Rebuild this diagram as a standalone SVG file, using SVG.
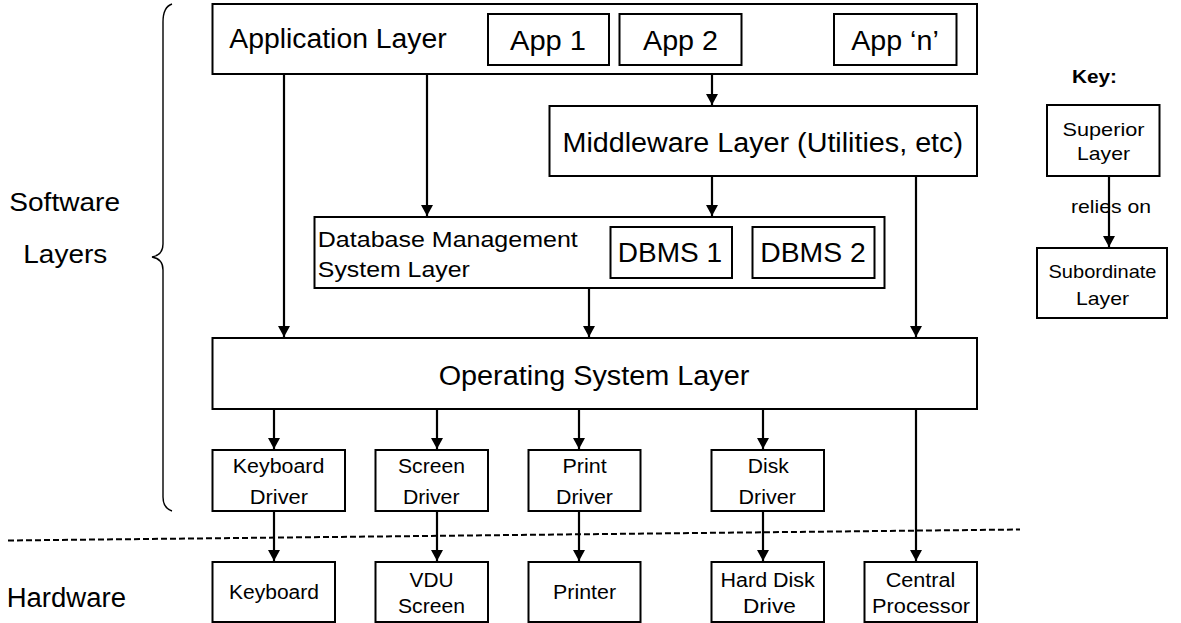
<svg xmlns="http://www.w3.org/2000/svg" width="1181" height="623" viewBox="0 0 1181 623">
<style>
rect{fill:#fff;stroke:#000;stroke-width:2}
text{font-family:"Liberation Sans",Arial,sans-serif;fill:#000}
.c{text-anchor:middle}
.big{font-size:27px}
.mid{font-size:22px}
.sm{font-size:20px}
.key{font-size:19px}
.side{font-size:26px}
.cn line{stroke:#000;stroke-width:2.2}
.cn line.a{marker-end:url(#ah)}
</style>
<defs>
<marker id="ah" markerUnits="userSpaceOnUse" markerWidth="11" markerHeight="12" refX="11" refY="6" orient="auto">
<path d="M0,0 L11,6 L0,12 z" fill="#000"/>
</marker>
</defs>
<rect width="1181" height="623" style="fill:#fff;stroke:none"/>

<g id="side-labels">
<text class="side" x="9.3" y="211" textLength="110.7" lengthAdjust="spacingAndGlyphs">Software</text>
<text class="side" x="23.3" y="263" textLength="84" lengthAdjust="spacingAndGlyphs">Layers</text>
<text class="side" x="6.7" y="607" textLength="119.3" lengthAdjust="spacingAndGlyphs" style="font-size:27px">Hardware</text>
<path d="M172,4 C166,6 163,12 163,22 L163,244 C163,252 158,256 152,257 C158,258 163,262 163,270 L163,497 C163,505 166,509 172,511" fill="none" stroke="#000" stroke-width="1.4"/>
<line x1="8" y1="540.5" x2="1020" y2="529.5" stroke="#000" stroke-width="2" stroke-dasharray="6,3"/>
</g>

<g class="cn" id="connectors">
<line class="a" x1="284" y1="75" x2="284" y2="337"/>
<line class="a" x1="427" y1="75" x2="427" y2="216"/>
<line class="a" x1="712" y1="75" x2="712" y2="105"/>
<line class="a" x1="712" y1="177" x2="712" y2="216"/>
<line class="a" x1="916" y1="177" x2="916" y2="337"/>
<line class="a" x1="589" y1="289" x2="589" y2="337"/>
<line class="a" x1="274" y1="410" x2="274" y2="449"/>
<line class="a" x1="437" y1="410" x2="437" y2="449"/>
<line class="a" x1="579" y1="410" x2="579" y2="449"/>
<line class="a" x1="763" y1="410" x2="763" y2="449"/>
<line class="a" x1="274" y1="512" x2="274" y2="561"/>
<line class="a" x1="437" y1="512" x2="437" y2="561"/>
<line class="a" x1="579" y1="512" x2="579" y2="561"/>
<line class="a" x1="763" y1="512" x2="763" y2="561"/>
<line class="a" x1="916" y1="410" x2="916" y2="561"/>
<line class="a" x1="1109" y1="177" x2="1109" y2="247"/>
</g>

<g id="application-layer">
<rect x="212.5" y="4" width="764.5" height="70"/>
<text class="big" x="229.3" y="48.3" textLength="217.4" lengthAdjust="spacingAndGlyphs">Application Layer</text>
</g>
<g id="app1">
<rect x="488" y="14" width="121" height="51"/>
<text class="big c" x="548" y="50" textLength="76" lengthAdjust="spacingAndGlyphs">App 1</text>
</g>
<g id="app2">
<rect x="619.5" y="14" width="122" height="51"/>
<text class="big c" x="680.5" y="50" textLength="75" lengthAdjust="spacingAndGlyphs">App 2</text>
</g>
<g id="appn">
<rect x="834" y="14" width="122.5" height="51"/>
<text class="big c" x="895" y="50" textLength="87.5" lengthAdjust="spacingAndGlyphs">App ‘n’</text>
</g>

<g id="middleware-layer">
<rect x="549.5" y="106" width="427.5" height="70"/>
<text class="big" x="562.5" y="151.5" textLength="400.5" lengthAdjust="spacingAndGlyphs">Middleware Layer (Utilities, etc)</text>
</g>

<g id="dbms-layer">
<rect x="314.5" y="217" width="570" height="71"/>
<text class="mid" x="317.8" y="246.7" textLength="260" lengthAdjust="spacingAndGlyphs">Database Management</text>
<text class="mid" x="317.8" y="277" textLength="152" lengthAdjust="spacingAndGlyphs">System Layer</text>
</g>
<g id="dbms1">
<rect x="610.5" y="227" width="121.5" height="51"/>
<text class="big c" x="670" y="261.7" textLength="104.4" lengthAdjust="spacingAndGlyphs">DBMS 1</text>
</g>
<g id="dbms2">
<rect x="752.5" y="227" width="122" height="51"/>
<text class="big c" x="813" y="261.7" textLength="105.5" lengthAdjust="spacingAndGlyphs">DBMS 2</text>
</g>

<g id="os-layer">
<rect x="212.5" y="338" width="764.5" height="71"/>
<text class="big c" x="594" y="385" textLength="310.7" lengthAdjust="spacingAndGlyphs">Operating System Layer</text>
</g>

<g id="keyboard-driver">
<rect x="212.5" y="450" width="132.5" height="61"/>
<text class="sm c" x="278.6" y="473.3" textLength="91.6" lengthAdjust="spacingAndGlyphs">Keyboard</text>
<text class="sm c" x="278.9" y="504" textLength="58.3" lengthAdjust="spacingAndGlyphs">Driver</text>
</g>
<g id="screen-driver">
<rect x="375.5" y="450" width="112.5" height="61"/>
<text class="sm c" x="431.5" y="473.3" textLength="67" lengthAdjust="spacingAndGlyphs">Screen</text>
<text class="sm c" x="431.2" y="504" textLength="56.6" lengthAdjust="spacingAndGlyphs">Driver</text>
</g>
<g id="print-driver">
<rect x="528.5" y="450" width="112" height="61"/>
<text class="sm c" x="584.6" y="473.3" textLength="44.2" lengthAdjust="spacingAndGlyphs">Print</text>
<text class="sm c" x="584.5" y="504" textLength="57" lengthAdjust="spacingAndGlyphs">Driver</text>
</g>
<g id="disk-driver">
<rect x="711.5" y="450" width="112.5" height="61"/>
<text class="sm c" x="768.3" y="473.3" textLength="41" lengthAdjust="spacingAndGlyphs">Disk</text>
<text class="sm c" x="767.2" y="504" textLength="57.3" lengthAdjust="spacingAndGlyphs">Driver</text>
</g>

<g id="keyboard">
<rect x="212.5" y="562" width="122.5" height="60"/>
<text class="sm c" x="274" y="599" textLength="90" lengthAdjust="spacingAndGlyphs">Keyboard</text>
</g>
<g id="vdu-screen">
<rect x="375.5" y="562" width="112.5" height="60"/>
<text class="sm c" x="431.5" y="587.3" textLength="44" lengthAdjust="spacingAndGlyphs">VDU</text>
<text class="sm c" x="431.5" y="613" textLength="67" lengthAdjust="spacingAndGlyphs">Screen</text>
</g>
<g id="printer">
<rect x="528.5" y="562" width="112" height="60"/>
<text class="sm c" x="584.5" y="599" textLength="63" lengthAdjust="spacingAndGlyphs">Printer</text>
</g>
<g id="hard-disk-drive">
<rect x="711.5" y="562" width="112.5" height="60"/>
<text class="sm c" x="767.7" y="587.3" textLength="94.2" lengthAdjust="spacingAndGlyphs">Hard Disk</text>
<text class="sm c" x="769.4" y="613" textLength="52.8" lengthAdjust="spacingAndGlyphs">Drive</text>
</g>
<g id="central-processor">
<rect x="864.5" y="562" width="112.5" height="60"/>
<text class="sm c" x="920.5" y="587.3" textLength="69.7" lengthAdjust="spacingAndGlyphs">Central</text>
<text class="sm c" x="921" y="613" textLength="98" lengthAdjust="spacingAndGlyphs">Processor</text>
</g>

<g id="key">
<text class="key c" x="1094.5" y="83.3" style="font-weight:bold" textLength="45" lengthAdjust="spacingAndGlyphs">Key:</text>
<text class="key c" x="1111" y="213.3" textLength="80" lengthAdjust="spacingAndGlyphs">relies on</text>
</g>
<g id="key-superior">
<rect x="1047" y="105" width="112.5" height="71"/>
<text class="key c" x="1103.5" y="135.5" textLength="82" lengthAdjust="spacingAndGlyphs">Superior</text>
<text class="key c" x="1103.5" y="160" textLength="53" lengthAdjust="spacingAndGlyphs">Layer</text>
</g>
<g id="key-subordinate">
<rect x="1037" y="248" width="130" height="70"/>
<text class="key c" x="1102.5" y="277.5" textLength="108" lengthAdjust="spacingAndGlyphs">Subordinate</text>
<text class="key c" x="1102.5" y="305" textLength="53" lengthAdjust="spacingAndGlyphs">Layer</text>
</g>
</svg>
